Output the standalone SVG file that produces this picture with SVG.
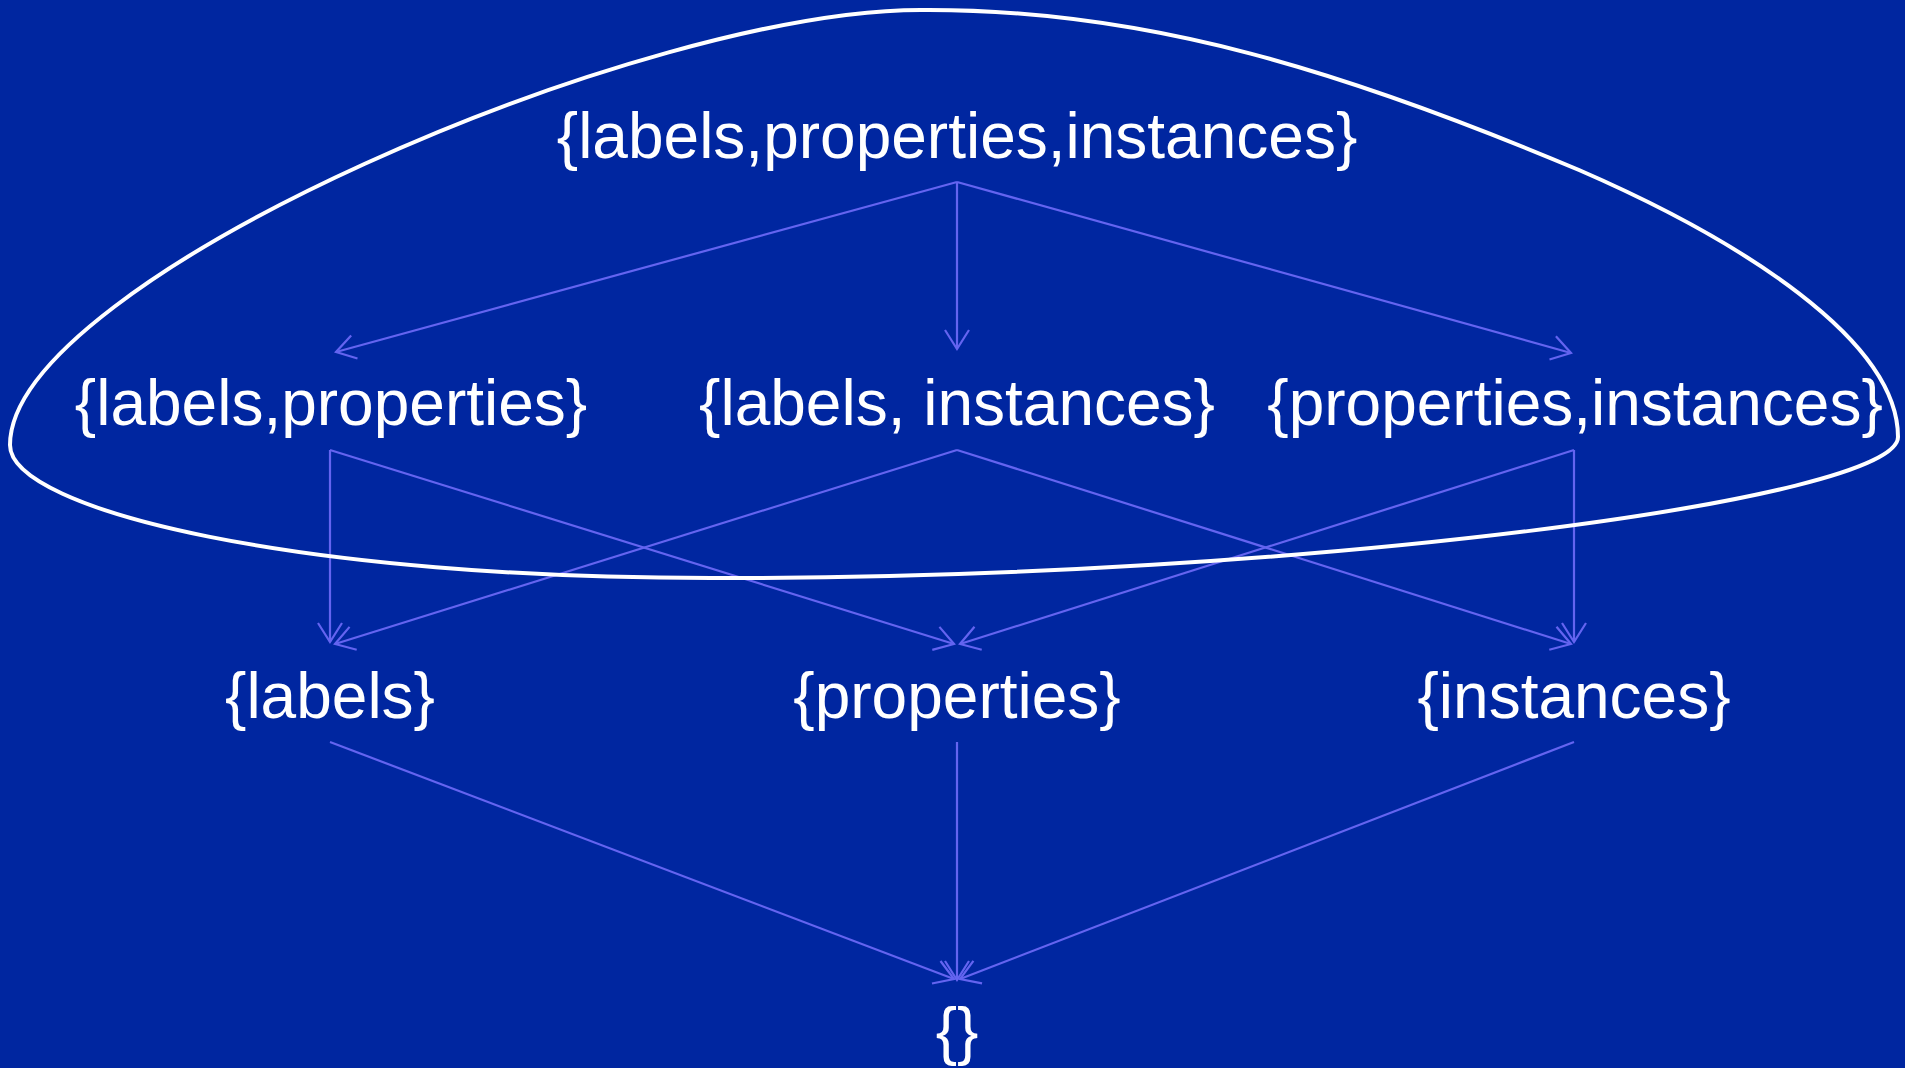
<svg xmlns="http://www.w3.org/2000/svg" width="1905" height="1068" viewBox="0 0 1905 1068">
<style>
.lbl{font-family:"Liberation Sans",Arial,sans-serif;font-size:64px;fill:#ffffff;text-anchor:middle}
.edge{stroke:#6464f0;stroke-width:2.2;fill:none;marker-end:url(#arr)}
.blob{stroke:#ffffff;stroke-width:4;fill:none}
</style>
<defs>
<marker id="arr" markerUnits="userSpaceOnUse" viewBox="-24 -16 28 32" markerWidth="28" markerHeight="32" refX="0" refY="0" orient="auto" overflow="visible">
<path d="M-19,-12 L0,0 L-19,12" fill="none" stroke="#6464f0" stroke-width="2.2"/>
</marker>
</defs>
<rect x="0" y="0" width="1905" height="1068" fill="#0026a0"/>
<g id="connectors">
<line class="edge" x1="957" y1="182" x2="336" y2="352"/>
<line class="edge" x1="957" y1="182" x2="957" y2="349"/>
<line class="edge" x1="957" y1="182" x2="1571" y2="353"/>
<line class="edge" x1="330" y1="450" x2="330" y2="642"/>
<line class="edge" x1="330" y1="450" x2="954" y2="644"/>
<line class="edge" x1="957" y1="450" x2="335" y2="644"/>
<line class="edge" x1="957" y1="450" x2="1571" y2="644"/>
<line class="edge" x1="1574" y1="450" x2="960" y2="644"/>
<line class="edge" x1="1574" y1="450" x2="1574" y2="642"/>
<line class="edge" x1="330" y1="742" x2="954" y2="979"/>
<line class="edge" x1="957" y1="742" x2="957" y2="980"/>
<line class="edge" x1="1574" y1="742" x2="960" y2="979"/>
</g>
<g id="boundary">
<path class="blob" d="M929,10 C650,5 10,280 10,445 C10,510 300,580 729,578 C1300,578 1898,500 1898,437 C1898,340 1740,240 1579,170 C1349,73 1150,10 929,10 Z"/>
</g>
<g id="n_all"><text class="lbl" x="957" y="158">{labels,properties,instances}</text></g>
<g id="n_lp"><text class="lbl" x="331" y="425">{labels,properties}</text></g>
<g id="n_li"><text class="lbl" x="957" y="425">{labels, instances}</text></g>
<g id="n_pi"><text class="lbl" x="1575" y="425">{properties,instances}</text></g>
<g id="n_l"><text class="lbl" x="330" y="718">{labels}</text></g>
<g id="n_p"><text class="lbl" x="957" y="718">{properties}</text></g>
<g id="n_i"><text class="lbl" x="1574" y="718">{instances}</text></g>
<g id="n_empty"><text class="lbl" x="957" y="1053">{}</text></g>
</svg>
